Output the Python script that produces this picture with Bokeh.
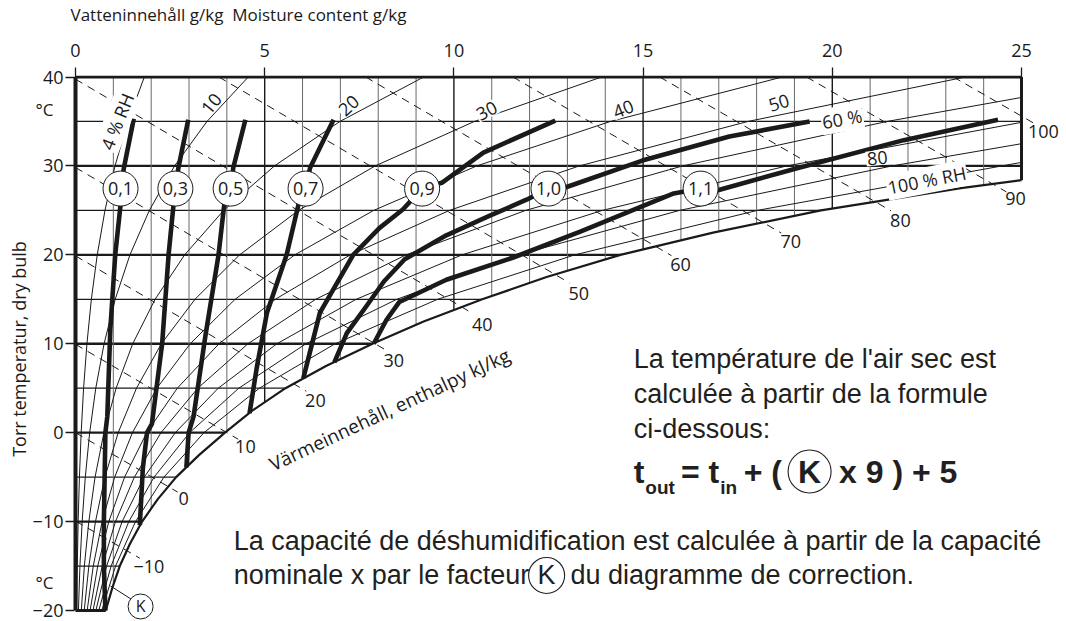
import numpy as np
from bokeh.plotting import figure
from bokeh.models import Label, FixedTicker, Range1d, ColumnDataSource, LinearAxis
from bokeh.core.properties import value
from bokeh.embed import file_html
from bokeh.resources import INLINE

# ---------------- axis ticks ----------------
moisture_ticks = [0, 5, 10, 15, 20, 25]          # g/kg
temp_ticks = [-20, -10, 0, 10, 20, 30, 40]       # deg C
unit_ticks = [36.4, -16.9]                       # where the "°C" unit marks sit

# ---------------- saturation curve (100 % RH) ----------------
sat_T = [-20, -17.5, -15, -12.5, -10, -7.5, -5, -2.5, 0, 2.5, 5, 7.5, 10, 12.5, 15, 17.5, 20, 22.5, 25, 27.5, 28.4]
sat_x = [0.80, 0.97, 1.17, 1.44, 1.76, 2.17, 2.66, 3.27, 3.95, 4.68, 5.55, 6.62, 7.85, 9.2, 10.75, 12.45, 14.4, 16.85, 19.7, 23.4, 25.0]

# ---------------- relative humidity curves ----------------
rh_T = [-20, -15, -10, -5, 0, 5, 10, 15, 20, 25, 30, 35, 40]
rh04_x = [0.031, 0.047, 0.070, 0.104, 0.150, 0.214, 0.302, 0.419, 0.575, 0.779, 1.045, 1.385, 1.819]
rh10_x = [0.077, 0.117, 0.176, 0.259, 0.375, 0.536, 0.755, 1.049, 1.439, 1.952, 2.618, 3.475, 4.565]
rh20_x = [0.154, 0.234, 0.352, 0.517, 0.751, 1.073, 1.512, 2.103, 2.885, 3.916, 5.258, 6.988, 9.200]
rh30_x = [0.231, 0.353, 0.528, 0.777, 1.128, 1.611, 2.270, 3.157, 4.338, 5.893, 7.920, 10.541, 13.903]
rh40_x = [0.309, 0.470, 0.704, 1.036, 1.505, 2.150, 3.031, 4.217, 5.797, 7.882, 10.605, 14.135, 18.677]
rh50_x = [0.385, 0.588, 0.880, 1.297, 1.882, 2.690, 3.793, 5.280, 7.264, 9.884, 13.314, 17.770, 23.52]
rh60_T = [-20, -15, -10, -5, 0, 5, 10, 15, 20, 25, 30, 35, 37.7]
rh60_x = [0.463, 0.706, 1.056, 1.556, 2.259, 3.231, 4.557, 6.347, 8.737, 11.898, 16.045, 21.446, 25.0]
rh70_T = [-20, -15, -10, -5, 0, 5, 10, 15, 20, 25, 30, 34.9]
rh70_x = [0.539, 0.823, 1.232, 1.816, 2.637, 3.772, 5.322, 7.417, 10.217, 13.925, 18.80, 25.0]
rh80_T = [-20, -15, -10, -5, 0, 5, 10, 15, 20, 25, 30, 32.5]
rh80_x = [0.616, 0.941, 1.409, 2.076, 3.016, 4.315, 6.091, 8.491, 11.704, 15.966, 21.579, 25.0]
rh90_T = [-20, -15, -10, -5, 0, 5, 10, 15, 20, 25, 30.4]
rh90_x = [0.694, 1.059, 1.586, 2.337, 3.396, 4.858, 6.861, 9.569, 13.198, 18.02, 25.0]

rh_label_text = ["4 % RH", "10", "20", "30", "40", "50", "60 %", "80", "100 % RH"]
rh_label_x = [1.10, 3.59, 7.22, 10.87, 14.48, 18.59, 20.26, 21.19, 22.50]
rh_label_T = [35.0, 37.0, 36.8, 36.2, 36.4, 37.1, 35.3, 30.9, 28.4]
rh_label_angle = [68, 51, 42, 27, 22, 17, 10, 6, 11]

# ---------------- enthalpy lines (kJ/kg) ----------------
h_text = ["\u221210", "0", "10", "20", "30", "40", "50", "60", "70", "80", "90", "100"]
h_start_x = [0, 0, 0, 0, 0, 0, 3.79, 7.67, 11.56, 15.44, 19.32, 23.2]
h_start_T = [-9.94, 0, 9.94, 19.88, 29.82, 39.76, 40, 40, 40, 40, 40, 40]
h_end_x = [1.7, 2.7, 4.3, 6.1, 8.2, 10.5, 13.05, 15.75, 18.65, 21.55, 24.6, 25.35]
h_end_T = [-14.12, -6.68, -0.74, 4.66, 9.29, 13.4, 16.85, 19.91, 22.45, 24.95, 27.08, 34.75]
h_lab_x = [1.94, 2.86, 4.49, 6.34, 8.41, 10.75, 13.3, 15.99, 18.9, 21.8, 24.84, 25.58]
h_lab_T = [-15.0, -7.4, -1.6, 3.6, 8.1, 12.2, 15.7, 18.9, 21.5, 23.9, 26.3, 33.9]

# ---------------- correction factor K curves ----------------
k01_x = [1.54, 1.28, 1.19, 1.19, 1.05, 0.92, 0.84, 0.79, 0.75, 0.75, 0.79]
k01_T = [35.3, 29.8, 27.45, 25.6, 20.0, 11.6, 1.8, 0.0, -10.0, -15.0, -20.0]
k03_x = [2.98, 2.72, 2.64, 2.59, 2.46, 2.29, 2.02, 1.89, 1.78, 1.70]
k03_T = [35.2, 29.8, 27.45, 25.6, 20.0, 10.0, 1.0, 0.0, -4.0, -10.4]
k05_x = [4.49, 4.17, 4.10, 3.93, 3.78, 3.43, 3.12, 2.99, 2.93]
k05_T = [35.2, 29.8, 27.45, 25.6, 20.0, 10.8, 1.8, 0.0, -3.9]
k07_x = [6.82, 6.20, 6.08, 5.89, 5.58, 5.06, 4.79, 4.60]
k07_T = [35.2, 29.8, 27.45, 25.6, 20.0, 13.5, 7.3, 2.2]
k09_x = [12.68, 10.78, 9.68, 9.16, 8.65, 8.03, 7.34, 6.46, 6.02]
k09_T = [35.1, 31.5, 28.1, 27.45, 25.1, 23.0, 20.0, 13.5, 6.1]
k10_x = [19.40, 17.28, 14.98, 12.96, 12.50, 11.92, 10.95, 9.80, 8.70, 8.15, 7.70, 7.17, 6.84]
k10_T = [35.0, 33.3, 30.6, 27.6, 27.45, 26.2, 24.4, 22.2, 19.5, 17.0, 14.3, 11.2, 7.9]
k11_x = [24.38, 21.89, 19.12, 17.00, 16.52, 15.81, 13.34, 11.57, 9.80, 8.56, 8.22, 7.88]
k11_T = [35.2, 32.9, 29.8, 27.3, 27.45, 26.9, 22.6, 19.7, 17.2, 14.7, 12.7, 10.0]

k_labels = ["0,1", "0,3", "0,5", "0,7", "0,9", "1,0", "1,1"]
k_lab_x = [1.19, 2.64, 4.10, 6.08, 9.16, 12.50, 16.52]
k_lab_T = [27.45, 27.45, 27.45, 27.45, 27.45, 27.45, 27.45]

# ---------------- figure ----------------
INK = "#1a1a1a"
PCOL = "#231f20"
CHART_FONT = "Open Sans"
TEXT_FONT = "Liberation Sans"

p = figure(frame_width=993, frame_height=547,
           x_range=Range1d(-0.132, 26.11), y_range=Range1d(-21.35, 40.17),
           x_axis_location="above", y_axis_location="left",
           toolbar_location=None, output_backend="svg",
           min_border_left=70, min_border_right=3, min_border_top=74, min_border_bottom=0,
           outline_line_color=None, background_fill_color="white", border_fill_color="white")
p.xgrid.visible = False
p.ygrid.visible = False

p.title.text = "Vatteninneh\u00e5ll g/kg\u00a0 Moisture content g/kg"
p.title.align = "left"
p.title.offset = 0
p.title.standoff = 0
p.title.text_font = CHART_FONT
p.title.text_font_size = "17px"
p.title.text_font_style = "normal"
p.title.text_color = INK

xa = p.xaxis[0]
xa.ticker = FixedTicker(ticks=moisture_ticks)
xa.axis_line_color = None
xa.major_tick_out = 8
xa.major_tick_in = 2
xa.major_tick_line_width = 1.3
xa.major_tick_line_color = INK
xa.minor_tick_line_color = None
xa.major_label_text_font = CHART_FONT
xa.major_label_text_font_size = "18px"
xa.major_label_text_color = INK
xa.major_label_standoff = 11
# invisible spacer label keeps the title clear of the tick labels
xa.axis_label = "\u00a0"
xa.axis_label_text_font_size = "1px"
xa.axis_label_standoff = 11

ya = p.yaxis[0]
ya.ticker = FixedTicker(ticks=temp_ticks)
ya.axis_line_color = None
ya.major_tick_out = 5
ya.major_tick_in = 4
ya.major_tick_line_width = 1.3
ya.major_tick_line_color = INK
ya.minor_tick_line_color = None
ya.major_label_text_font = CHART_FONT
ya.major_label_text_font_size = "18px"
ya.major_label_text_color = INK
ya.major_label_standoff = 2
ya.major_label_overrides = {-20: "\u221220", -10: "\u221210"}

# outer left axis: only the "°C" unit marks and the axis title
ua = LinearAxis(ticker=FixedTicker(ticks=unit_ticks),
                major_label_overrides={36.4: "\u00b0C", -16.9: "\u00b0C"},
                axis_line_color=None, major_tick_line_color=None, minor_tick_line_color=None,
                major_label_text_font=CHART_FONT, major_label_text_font_size="17px",
                major_label_text_color=INK, major_label_standoff=-30,
                axis_label="Torr temperatur, dry bulb", axis_label_standoff=2,
                axis_label_text_font=CHART_FONT, axis_label_text_font_size="18px",
                axis_label_text_font_style="normal", axis_label_text_color=INK)
p.add_layout(ua, "left")

# grid: horizontal every 5 C, vertical every 1 g/kg (clipped below by a white patch)
hg_T = [t for t in range(-15, 40, 5)]
p.multi_line(xs=[[0, 25] for t in hg_T if t % 10 != 0], ys=[[t, t] for t in hg_T if t % 10 != 0],
             line_color=INK, line_width=1.2)
p.multi_line(xs=[[0, 25] for t in hg_T if t % 10 == 0], ys=[[t, t] for t in hg_T if t % 10 == 0],
             line_color=INK, line_width=2.3)
vg_x = [g for g in range(1, 25)]
p.multi_line(xs=[[g, g] for g in vg_x if g % 5 != 0], ys=[[-21.5, 40] for g in vg_x if g % 5 != 0],
             line_color="#6a6a6a", line_width=1.0)
p.multi_line(xs=[[g, g] for g in vg_x if g % 5 == 0], ys=[[-21.5, 40] for g in vg_x if g % 5 == 0],
             line_color=INK, line_width=1.4)

# relative humidity curves
for xs_, ts_ in [(rh04_x, rh_T), (rh10_x, rh_T), (rh20_x, rh_T), (rh30_x, rh_T), (rh40_x, rh_T),
                 (rh50_x, rh_T), (rh60_x, rh60_T), (rh70_x, rh70_T), (rh80_x, rh80_T), (rh90_x, rh90_T)]:
    p.line(xs_, ts_, line_color=INK, line_width=1.0)

# white area below / right of the saturation curve
patch_x = [-1.0, sat_x[0]] + sat_x + [27.0, 27.0, -1.0]
patch_T = [-20.0, -20.0] + sat_T + [sat_T[-1], -23.0, -23.0]
p.patch(patch_x, patch_T, fill_color="white", line_color=None)

# enthalpy lines
p.multi_line(xs=[[a, b] for a, b in zip(h_start_x, h_end_x)],
             ys=[[a, b] for a, b in zip(h_start_T, h_end_T)],
             line_color=INK, line_width=1.0, line_dash="8 6")

# chart outline
p.line([0, 0], [-20, 40], line_color=INK, line_width=4)
p.line([0, 25], [40, 40], line_color=INK, line_width=3)
p.line([25, 25], [40, sat_T[-1]], line_color=INK, line_width=3)
p.line([0, sat_x[0]], [-20, -20], line_color=INK, line_width=3)
p.line(sat_x, sat_T, line_color=INK, line_width=2.2)

# K curves
for xs_, ts_ in [(k01_x, k01_T), (k03_x, k03_T), (k05_x, k05_T), (k07_x, k07_T),
                 (k09_x, k09_T), (k10_x, k10_T), (k11_x, k11_T)]:
    p.line(xs_, ts_, line_color=INK, line_width=4.6, line_join="round")

ksrc = ColumnDataSource(dict(x=k_lab_x, y=k_lab_T, t=k_labels))
p.scatter("x", "y", source=ksrc, marker="circle", size=35, fill_color="white",
          line_color=INK, line_width=1.0)
p.text("x", "y", text="t", source=ksrc, text_font=value(CHART_FONT), text_font_size="18px",
       text_align="center", text_baseline="middle", text_color=INK)

# K pointer at the bottom of the 0,1 curve
p.line([1.50, 0.925], [-18.8, -17.24], line_color=INK, line_width=1.0)
p.scatter([1.72], [-19.55], marker="circle", size=25, fill_color="white", line_color=INK, line_width=1.0)
p.text([1.72], [-19.55], text=["K"], text_font=value(CHART_FONT), text_font_size="16px",
       text_align="center", text_baseline="middle", text_color=INK)


def lab(x, y, text, size="18px", font=CHART_FONT, angle=0, align="center", baseline="middle",
        bold=False, bg=None, color=INK):
    l = Label(x=x, y=y, text=text, text_font=font, text_font_size=size, angle=angle,
              angle_units="deg", text_align=align, text_baseline=baseline, text_color=color,
              text_font_style="bold" if bold else "normal")
    if bg is not None:
        l.background_fill_color = bg
        l.padding = 1
    p.add_layout(l)


for t, x, y, a in zip(rh_label_text, rh_label_x, rh_label_T, rh_label_angle):
    lab(x, y, t, angle=a, bg="white")
for t, x, y in zip(h_text, h_lab_x, h_lab_T):
    lab(x, y, t)

lab(8.30, 2.6, "V\u00e4rmeinneh\u00e5ll, enthalpy kJ/kg", size="19px", angle=25)

# explanatory texts
lab(14.75, 8.33, "La temp\u00e9rature de l'air sec est", size="27px", font=TEXT_FONT, align="left", color=PCOL)
lab(14.75, 4.40, "calcul\u00e9e \u00e0 partir de la formule", size="27px", font=TEXT_FONT, align="left", color=PCOL)
lab(14.75, 0.46, "ci-dessous:", size="27px", font=TEXT_FONT, align="left", color=PCOL)

F_T, S_T = -4.37, -6.22
lab(14.75, F_T, "t", size="32px", font=TEXT_FONT, align="left", bold=True, color=PCOL)
lab(15.06, S_T, "out", size="19px", font=TEXT_FONT, align="left", bold=True, color=PCOL)
lab(16.00, F_T, "= t", size="32px", font=TEXT_FONT, align="left", bold=True, color=PCOL)
lab(17.04, S_T, "in", size="19px", font=TEXT_FONT, align="left", bold=True, color=PCOL)
lab(17.66, F_T, "+ (", size="32px", font=TEXT_FONT, align="left", bold=True, color=PCOL)
lab(19.40, F_T, "K", size="32px", font=TEXT_FONT, align="center", bold=True, color=PCOL)
lab(20.18, F_T, "x 9 ) + 5", size="32px", font=TEXT_FONT, align="left", bold=True, color=PCOL)
p.scatter([19.40], [F_T], marker="circle", size=43, fill_color=None, line_color=PCOL, line_width=1.1)

L1_T, L2_T = -12.13, -16.06
lab(4.18, L1_T, "La capacit\u00e9 de d\u00e9shumidification est calcul\u00e9e \u00e0 partir de la capacit\u00e9",
    size="27px", font=TEXT_FONT, align="left", color=PCOL)
lab(4.18, L2_T, "nominale x par le facteur", size="27px", font=TEXT_FONT, align="left", color=PCOL)
lab(12.45, L2_T, "K", size="27px", font=TEXT_FONT, align="center", color=PCOL)
p.scatter([12.45], [L2_T], marker="circle", size=36, fill_color=None, line_color=PCOL, line_width=1.1)
lab(13.08, L2_T, "du diagramme de correction.", size="27px", font=TEXT_FONT, align="left", color=PCOL)

open("out.html", "w").write(file_html(p, INLINE))
